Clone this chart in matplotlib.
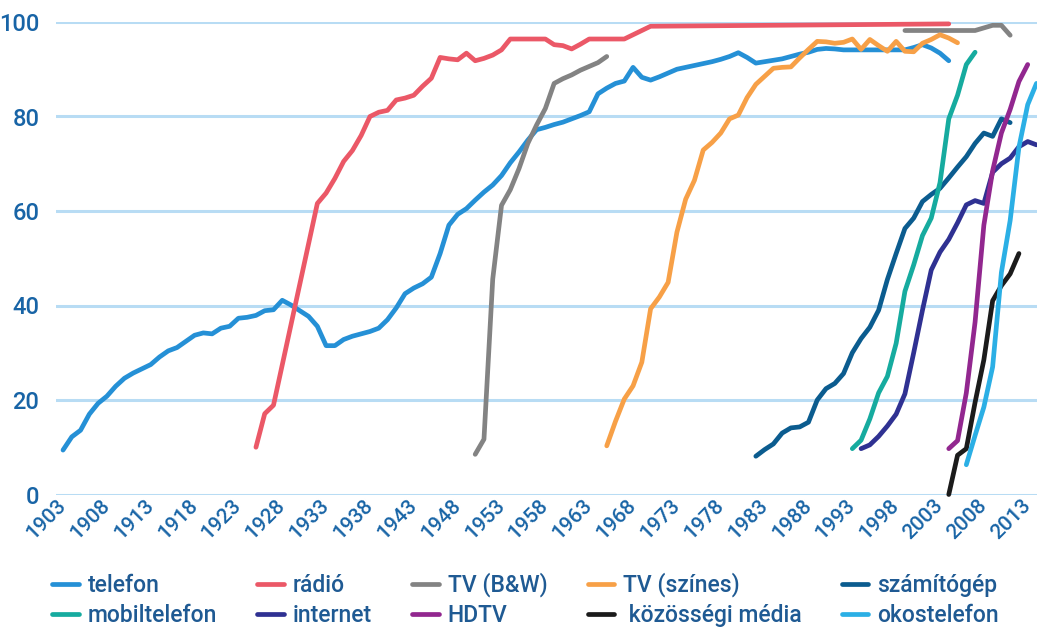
import numpy as np
import matplotlib.pyplot as plt

plt.rcParams['font.family'] = ['Roboto', 'DejaVu Sans']

nan = np.nan

# telefon, yearly 1903-2004
tel_yr = list(range(1903, 2005))
tel = [9.4, 12.2, 13.6, 17.0, 19.3, 20.8, 22.9, 24.6, 25.7, 26.6,
       27.5, 29.1, 30.4, 31.1, 32.4, 33.7, 34.2, 34.0, 35.2, 35.6,
       37.3, 37.5, 37.9, 38.9, 39.1, 41.1, 40.1, 38.9, 37.7, 35.6,
       31.5, 31.5, 32.8, 33.5, 34.0, 34.5, 35.2, 37.0, 39.5, 42.5,
       43.7, 44.6, 46.0, 51.0, 57.0, 59.3, 60.5, 62.3, 64.0, 65.5,
       67.5, 70.2, 72.5, 75.0, 77.2, 77.7, 78.3, 78.8, 79.5, 80.2,
       81.0, 84.8, 86.0, 87.0, 87.5, 90.4, 88.3, 87.7, 88.4, 89.2,
       90.0, 90.4, 90.8, 91.2, 91.6, 92.1, 92.7, 93.5, 92.5, 91.3,
       91.6, 91.9, 92.2, 92.7, 93.2, 93.6, 94.2, 94.4, 94.3, 94.1,
       94.1, 94.1, 94.1, 94.1, 94.1, 94.1, 94.1, 94.6, 95.2, 94.5,
       93.4, 91.8]

radio_yr = [1925, 1926, 1927, 1932, 1933, 1934, 1935, 1936, 1937, 1938,
            1939, 1940, 1941, 1942, 1943, 1944, 1945, 1946, 1947, 1948,
            1949, 1950, 1951, 1952, 1953, 1954, 1958, 1959, 1960, 1961,
            1962, 1963, 1967, 1970, 2004]
radio = [10.0, 17.1, 18.9, 61.6, 63.8, 66.9, 70.5, 72.8, 76.0, 80.0,
         80.9, 81.3, 83.5, 83.9, 84.5, 86.4, 88.1, 92.5, 92.2, 92.0,
         93.4, 91.8, 92.3, 93.0, 94.1, 96.4, 96.4, 95.2, 95.0, 94.3,
         95.3, 96.4, 96.4, 99.1, 99.6]

tvbw_yr = [1950, 1951, 1952, 1953, 1954, 1955, 1956, 1957, 1958, 1959,
           1960, 1961, 1962, 1963, 1964, 1965, 1966,
           1999, 2007, 2009, 2010, 2011]
tvbw = [8.5, 11.7, 45.6, 61.2, 64.5, 69.0, 74.3, 78.2, 81.7, 87.0,
        88.0, 88.8, 89.8, 90.6, 91.4, 92.7, nan,
        98.2, 98.2, 99.3, 99.3, 97.2]

tvc_yr = list(range(1965, 2006))
tvc = [10.3, 15.5, 20.2, 23.0, 28.0, 39.3, 41.8, 44.9, 55.5, 62.5,
       66.5, 72.9, 74.5, 76.5, 79.5, 80.3, 84.0, 86.8, 88.5, 90.2,
       90.4, 90.5, 92.4, 94.2, 95.9, 95.8, 95.5, 95.7, 96.4, 94.2,
       96.3, 95.0, 93.8, 95.9, 93.8, 93.7, 95.5, 96.3, 97.3, 96.6,
       95.6]

pc_yr = list(range(1982, 2012))
pc = [8.1, 9.5, 10.7, 13.0, 14.1, 14.3, 15.3, 20.0, 22.4, 23.5,
      25.6, 30.0, 33.0, 35.4, 39.0, 45.5, 51.0, 56.3, 58.5, 62.0,
      63.5, 64.8, 67.0, 69.3, 71.5, 74.3, 76.5, 75.8, 79.5, 78.7]

mob_yr = list(range(1993, 2008))
mob = [9.7, 11.5, 16.0, 21.5, 25.0, 32.0, 43.0, 48.6, 54.8, 58.5,
       66.0, 79.5, 84.5, 91.0, 93.6]

net_yr = list(range(1994, 2015))
net = [9.7, 10.5, 12.3, 14.5, 17.0, 21.3, 30.0, 39.0, 47.5, 51.3,
       54.0, 57.5, 61.3, 62.2, 61.6, 68.2, 70.0, 71.2, 73.6, 74.7,
       74.0]

hdtv_yr = list(range(2004, 2014))
hdtv = [9.7, 11.4, 21.5, 36.5, 57.0, 68.5, 76.5, 81.5, 87.4, 91.0]

soc_yr = list(range(2004, 2013))
soc = [0.0, 8.3, 9.7, 19.5, 28.5, 41.0, 44.2, 46.7, 51.0]

smart_yr = list(range(2006, 2015))
smart = [6.3, 12.5, 18.5, 27.0, 47.0, 58.0, 73.5, 82.5, 87.0]

series = [
    ("telefon", tel_yr, tel, "#2590d6"),
    ("rádió", radio_yr, radio, "#eb5867"),
    ("TV (B&W)", tvbw_yr, tvbw, "#838383"),
    ("TV (színes)", tvc_yr, tvc, "#f7a047"),
    ("számítógép", pc_yr, pc, "#0b5c8f"),
    ("mobiltelefon", mob_yr, mob, "#16ab9f"),
    ("internet", net_yr, net, "#2f3192"),
    ("HDTV", hdtv_yr, hdtv, "#92278f"),
    (" közösségi média", soc_yr, soc, "#1b1b1b"),
    ("okostelefon", smart_yr, smart, "#2bafe5"),
]

tick_yr = list(range(1903, 2014, 5))
blue_txt = "#1864a6"

fig = plt.figure(figsize=(10.37, 6.3), dpi=100)
ax = fig.add_axes([56 / 1037, 135.5 / 630, 981 / 1037, 472.5 / 630])

lines = {}
for name, x, y, col in series:
    ln, = ax.plot(x, y, color=col, lw=3.4, solid_capstyle="round",
                  solid_joinstyle="round", clip_on=False, zorder=3)
    lines[name] = ln

ax.set_xlim(1902.2, 2014.06)
ax.set_ylim(0, 100)
ax.set_yticks(range(0, 101, 20))
ax.set_xticks(tick_yr)
ax.set_xticklabels([str(t) for t in tick_yr], rotation=45, ha="right",
                   va="center", rotation_mode="anchor", fontweight="medium")
for t in ax.get_yticklabels():
    t.set_fontweight("medium")
ax.grid(axis="y", color="#b8dcf4", lw=2.2, zorder=0)
ax.grid(axis="x", visible=False)
for s in ax.spines.values():
    s.set_visible(False)
ax.tick_params(axis="y", length=0, pad=12, labelsize=17, labelcolor=blue_txt)
ax.tick_params(axis="x", length=0, pad=6, labelsize=15, labelcolor=blue_txt)

# legend filled column by column
order = ["telefon", "mobiltelefon", "rádió", "internet", "TV (B&W)", "HDTV",
         "TV (színes)", " közösségi média", "számítógép", "okostelefon"]
leg = fig.legend([lines[k] for k in order], order, ncol=5, frameon=False,
                 loc="upper left", bbox_to_anchor=(41 / 1037, 1 - 561 / 630),
                 prop={"size": 16.5, "weight": "medium"},
                 handlelength=1.15, handletextpad=0.4,
                 columnspacing=1.75, labelspacing=0.3, borderpad=0)
for t in leg.get_texts():
    t.set_color("#1f5a93")

fig.savefig("out.png", dpi=100)
